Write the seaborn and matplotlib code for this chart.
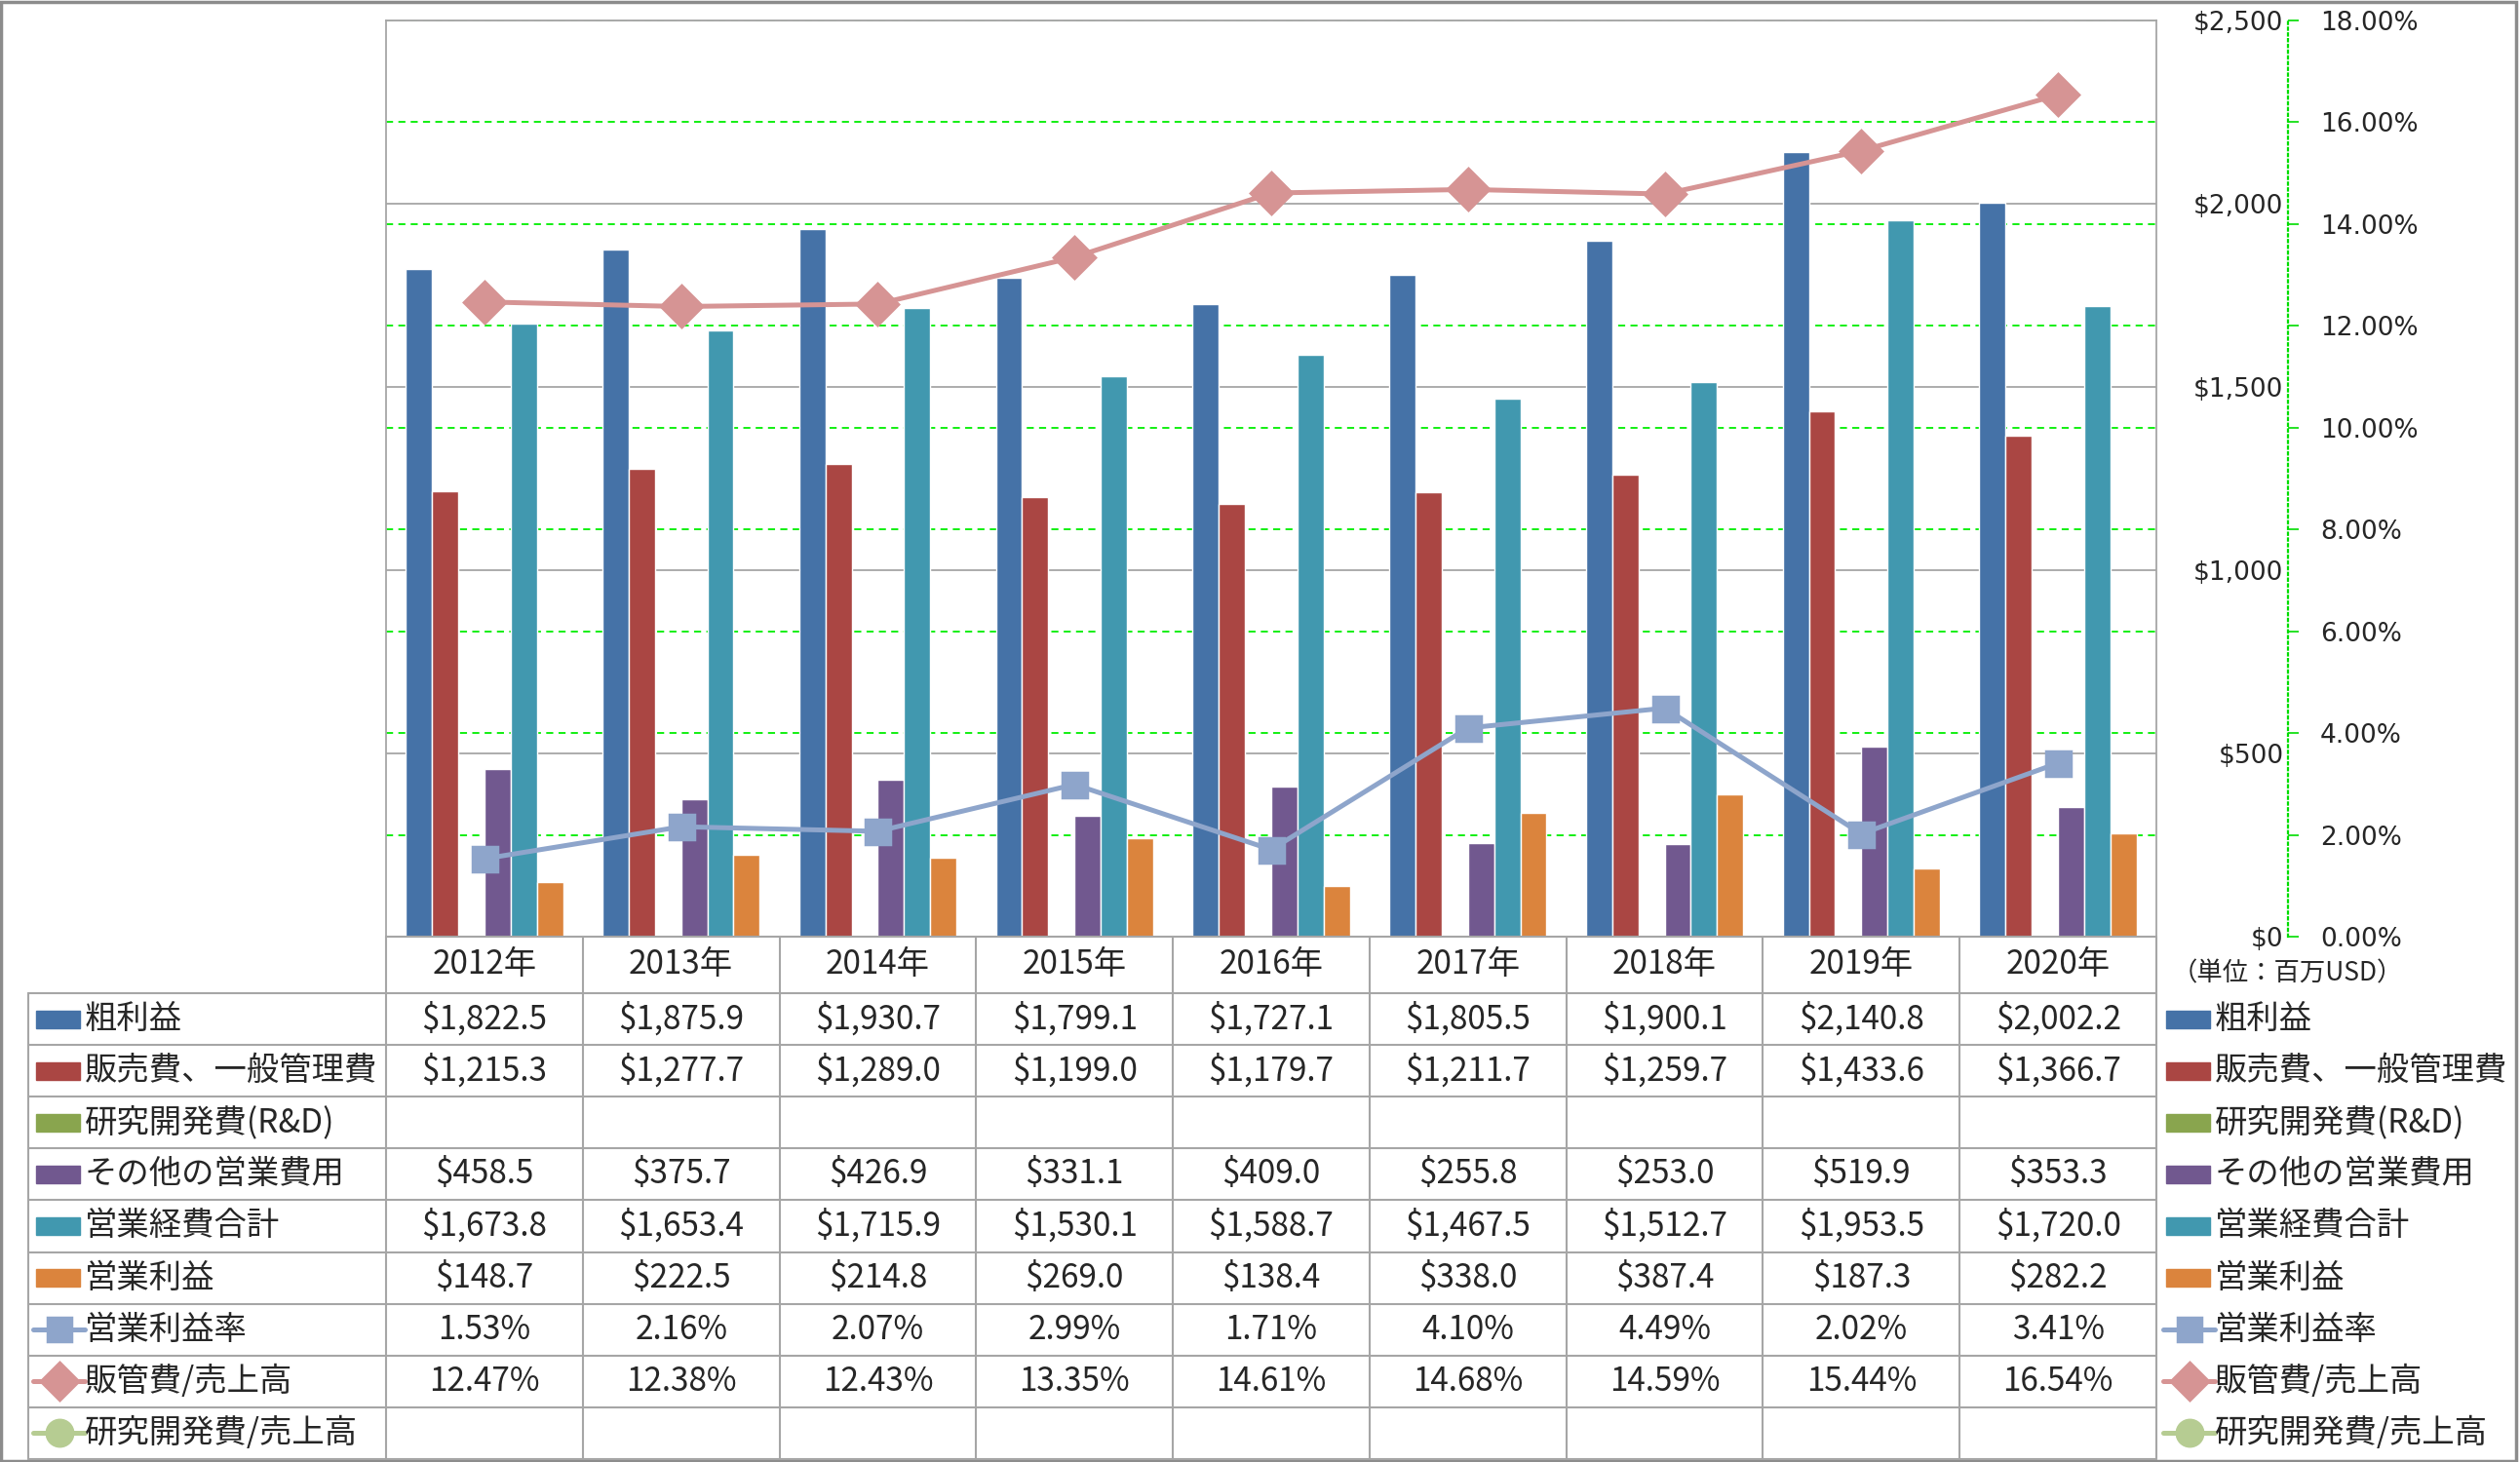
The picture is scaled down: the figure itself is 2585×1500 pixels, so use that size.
"""
粗利益・販管費・営業利益の推移（棒グラフ＋比率の折れ線＋データテーブル）
"""
import numpy as np
import pandas as pd
import matplotlib
matplotlib.use("Agg")
import matplotlib.pyplot as plt
from matplotlib.lines import Line2D
from matplotlib.patches import Rectangle
import seaborn as sns

sns.set_theme(style="white")
# DejaVu pour les axes (police large), CJK pour le tableau
plt.rcParams['font.family'] = ['DejaVu Sans', 'Noto Sans CJK JP']
JP = ['Noto Sans CJK JP', 'DejaVu Sans']

# ---- データ ----
years = ["2012年", "2013年", "2014年", "2015年", "2016年", "2017年", "2018年", "2019年", "2020年"]

gross_profit = [1822.5, 1875.9, 1930.7, 1799.1, 1727.1, 1805.5, 1900.1, 2140.8, 2002.2]
sga = [1215.3, 1277.7, 1289.0, 1199.0, 1179.7, 1211.7, 1259.7, 1433.6, 1366.7]
rnd = [np.nan] * 9
other_opex = [458.5, 375.7, 426.9, 331.1, 409.0, 255.8, 253.0, 519.9, 353.3]
total_opex = [1673.8, 1653.4, 1715.9, 1530.1, 1588.7, 1467.5, 1512.7, 1953.5, 1720.0]
op_income = [148.7, 222.5, 214.8, 269.0, 138.4, 338.0, 387.4, 187.3, 282.2]

op_margin = [1.53, 2.16, 2.07, 2.99, 1.71, 4.10, 4.49, 2.02, 3.41]
sga_ratio = [12.47, 12.38, 12.43, 13.35, 14.61, 14.68, 14.59, 15.44, 16.54]
rnd_ratio = [np.nan] * 9

bar_names = ["粗利益", "販売費、一般管理費", "研究開発費(R&D)", "その他の営業費用", "営業経費合計", "営業利益"]
bar_values = [gross_profit, sga, rnd, other_opex, total_opex, op_income]
bar_colors = ["#4572A7", "#AA4643", "#89A54E", "#71588F", "#4198AF", "#DB843D"]

line_names = ["営業利益率", "販管費/売上高", "研究開発費/売上高"]
line_values = [op_margin, sga_ratio, rnd_ratio]
line_colors = ["#8EA5CB", "#D69494", "#B6CC92"]
line_markers = ["s", "D", "o"]

# long format pour seaborn
df_bars = pd.DataFrame({
    "year": np.tile(years, len(bar_names)),
    "series": np.repeat(bar_names, len(years)),
    "value": np.concatenate(bar_values),
})

# ---- figure ----
W, H = 2585, 1500
fig = plt.figure(figsize=(W / 100, H / 100), dpi=100)


def fx(px):
    return px / W


def fy(py):
    return 1 - py / H


plot_l, plot_r, plot_t, plot_b = 396, 2212, 21, 961
ax = fig.add_axes([fx(plot_l), fy(plot_b), fx(plot_r) - fx(plot_l), fy(plot_t) - fy(plot_b)])

sns.barplot(data=df_bars, x="year", y="value", hue="series", hue_order=bar_names,
            order=years, palette=dict(zip(bar_names, bar_colors)), errorbar=None,
            saturation=1, width=0.8, legend=False, ax=ax)

ax.set_xlim(-0.5, len(years) - 0.5)
ax.set_ylim(0, 2500)
ax.set_xlabel("")
ax.set_ylabel("")
ax.set_axisbelow(True)
ax.yaxis.grid(True, color="#A6A6A6", lw=1.3)
for s in ax.spines.values():
    s.set_color("#A6A6A6")
    s.set_linewidth(1.3)

# grille secondaire (verte, en pointillés) derrière les barres
pct_ticks = np.arange(0, 18.01, 2)
for t in pct_ticks[1:]:
    ax.axhline(t * 2500 / 18, color="#00EE00", lw=1.3, ls=(0, (4, 3)), zorder=0.5)

# ---- axe secondaire : ratios ----
ax2 = ax.twinx()
for name, vals, col, mk in zip(line_names, line_values, line_colors, line_markers):
    if np.all(np.isnan(vals)):
        continue
    sns.lineplot(x=np.arange(len(years)), y=vals, color=col, lw=3.6, marker=mk,
                 markersize=18 if mk == "s" else 21, markerfacecolor=col,
                 markeredgecolor=col, markeredgewidth=2.5, ax=ax2)
ax2.set_ylim(0, 18)
ax2.set_yticks(pct_ticks)
ax2.set_yticklabels([f"{t:.2f}%" for t in pct_ticks])
ax2.spines["right"].set_position(("outward", 97))
ax2.spines["right"].set_color("#00DD00")
ax2.spines["right"].set_linestyle(":")
ax2.spines["right"].set_linewidth(1.6)
for s in ["left", "top", "bottom"]:
    ax2.spines[s].set_visible(False)
ax2.tick_params(axis="y", direction="out", length=8, width=1.2, color="#00DD00", pad=16,
                labelsize=19)
ax2.set_ylabel("")
ax2.grid(False)

# axe principal : étiquettes à droite, alignées contre l'axe secondaire
ax.set_yticks(range(0, 2501, 500))
ax.set_yticklabels([f"${v:,}" for v in range(0, 2501, 500)])
ax.tick_params(axis="y", left=False, right=False, labelleft=False, labelright=True,
               length=0, pad=94, labelsize=19)
for lab in ax.get_yticklabels():
    lab.set_horizontalalignment("right")
ax.tick_params(axis="x", labelbottom=False, length=0)

fig.text(fx(2346), fy(999), "（単位：百万USD）", ha="center", va="center", fontsize=19, family=JP)

# ---- tableau de données ----
grid_col = "#A6A6A6"
col_w = (plot_r - plot_l) / len(years)
row_tops = [961, 1019] + [1019 + 53.1 * (i + 1) for i in range(9)]
table_left = 29


def hline(y, x0, x1):
    fig.add_artist(Line2D([fx(x0), fx(x1)], [fy(y), fy(y)], color=grid_col, lw=1.5))


def vline(x, y0, y1):
    fig.add_artist(Line2D([fx(x), fx(x)], [fy(y0), fy(y1)], color=grid_col, lw=1.5))


hline(row_tops[0], plot_l, plot_r)
for y in row_tops[1:]:
    hline(y, table_left, plot_r)
vline(table_left, row_tops[1], row_tops[-1])
for i in range(len(years) + 1):
    vline(plot_l + i * col_w, row_tops[0], row_tops[-1])

fs_tab = 24
for i, yr in enumerate(years):
    fig.text(fx(plot_l + (i + 0.5) * col_w), fy((row_tops[0] + row_tops[1]) / 2), yr,
             ha="center", va="center", fontsize=fs_tab, family=JP)

row_names = bar_names + line_names
row_cells = []
for vals in bar_values:
    row_cells.append(["" if np.isnan(v) else f"${v:,.1f}" for v in vals])
for vals in line_values:
    row_cells.append(["" if np.isnan(v) else f"{v:.2f}%" for v in vals])
row_colors = bar_colors + line_colors
row_kinds = ["bar"] * len(bar_names) + line_markers


def legend_key(x0, yc, col, kind):
    if kind == "bar":
        fig.add_artist(Rectangle((fx(x0), fy(yc + 9)), fx(45), 18 / H, color=col,
                                 transform=fig.transFigure))
    else:
        fig.add_artist(Line2D([fx(x0 - 3), fx(x0 + 50)], [fy(yc), fy(yc)], color=col, lw=3.6))
        fig.add_artist(Line2D([fx(x0 + 23.5)], [fy(yc)], color=col, marker=kind,
                              markersize=17 if kind == "s" else 19, markeredgewidth=2.5,
                              markerfacecolor=col, markeredgecolor=col, lw=0))


for r, (name, cells, col, kind) in enumerate(zip(row_names, row_cells, row_colors, row_kinds)):
    yc = (row_tops[r + 1] + row_tops[r + 2]) / 2
    legend_key(37, yc, col, kind)
    fig.text(fx(87), fy(yc), name, ha="left", va="center", fontsize=fs_tab, family=JP)
    for i, c in enumerate(cells):
        fig.text(fx(plot_l + (i + 0.5) * col_w), fy(yc), c, ha="center", va="center",
                 fontsize=fs_tab, family=JP)
    # légende de droite
    legend_key(2222, yc, col, kind)
    fig.text(fx(2272), fy(yc), name, ha="left", va="center", fontsize=fs_tab, family=JP)

# cadre extérieur
fig.add_artist(Rectangle((0.0005, 0.001), 0.998, 0.998, fill=False, ec="#8C8C8C", lw=2.5,
                         transform=fig.transFigure))

fig.savefig("out.png", dpi=100)
